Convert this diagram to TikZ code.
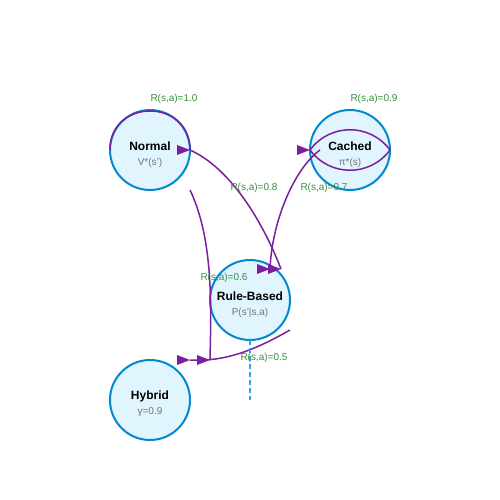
\documentclass[tikz,border=0pt]{standalone}
\usepackage{fontspec}
\setmainfont{Liberation Sans}
\definecolor{statefill}{HTML}{E1F5FE}
\definecolor{statedraw}{HTML}{0288D1}
\definecolor{edgecol}{HTML}{7B1FA2}
\definecolor{rewardcol}{HTML}{388E3C}
\definecolor{subcol}{HTML}{757575}
\definecolor{dashcol}{HTML}{35A3E0}
\newcommand{\mdptip}[1]{\fill[edgecol] (#1) ++(-13,-5) -- ++(13,5) -- ++(-13,5) -- cycle;}
\begin{document}
\begin{tikzpicture}[x=1pt,y=-1pt,
	state/.style={circle,draw=statedraw,fill=statefill,line width=2pt,
		minimum size=80pt,inner sep=0pt,outer sep=0pt},
	title/.style={font=\fontsize{12}{14}\selectfont\bfseries,inner sep=0pt},
	sub/.style={font=\fontsize{10}{12}\selectfont,text=subcol,inner sep=0pt},
	trans/.style={draw=edgecol,line width=1.5pt},
	reward/.style={font=\fontsize{10}{12}\selectfont,text=rewardcol,inner sep=0pt}]
	\useasboundingbox (0,0) rectangle (500,500);
	% states
	\node[state] (normal) at (150,150) {};
	\node[state] (cached) at (350,150) {};
	\node[state] (rule) at (250,300) {};
	\node[state] (hybrid) at (150,400) {};
	\node[title] (normalname) at (150,146) {Normal};
	\node[sub] (normalval) at (150,162.5) {V*(s')};
	\node[title] (cachedname) at (350,146) {Cached};
	\node[sub] (cachedval) at (350,162.5) {π*(s)};
	\node[title] (rulename) at (250,296) {Rule-Based};
	\node[sub] (ruleval) at (250,312.5) {P(s'|s,a)};
	\node[title] (hybridname) at (150,396) {Hybrid};
	\node[sub] (hybridval) at (150,412.5) {γ=0.9};
	% end points
	\coordinate (cachedin) at (320,150);
	\coordinate (rulein) at (270,269);
	\coordinate (ruleinb) at (281,269);
	\coordinate (normalout) at (190,190);
	\coordinate (ruleout) at (290,330);
	\coordinate (hybridin) at (210,360);
	\coordinate (hybridinb) at (190,360);
	\coordinate (dashend) at (250,400);
	% transitions
	\draw[trans] (normal.west) .. controls (110,98) and (190,98) .. (normal.east);
	\draw[trans] (cached.west) .. controls (330,123) and (370,123) .. (cached.east);
	\draw[trans] (cached.east) .. controls (370,177) and (330,177) .. (cached.west);
	\draw[trans] (normal.east) .. controls (230,168) and (262,220) .. (ruleinb);
	\draw[trans] (cachedin) .. controls (295,168) and (272,220) .. (rulein);
	\draw[trans] (normalout) .. controls (214,240) and (211,310) .. (hybridin);
	\draw[trans] (ruleout) .. controls (255,350) and (225,362) .. (hybridinb);
	\draw[draw=dashcol,line width=2pt,dash pattern=on 5pt off 3pt] (rule.south) -- (dashend);
	% arrow heads
	\mdptip{normal.east}
	\mdptip{cached.west}
	\mdptip{rulein}
	\mdptip{ruleinb}
	\mdptip{hybridinb}
	\mdptip{hybridin}
	% rewards
	\node[reward] (r1) at (174,98.5) {R(s,a)=1.0};
	\node[reward] (r2) at (374,98.5) {R(s,a)=0.9};
	\node[reward] (r3) at (254,187.5) {R(s,a)=0.8};
	\node[reward] (r4) at (324,187.5) {R(s,a)=0.7};
	\node[reward] (r5) at (224,277.5) {R(s,a)=0.6};
	\node[reward] (r6) at (264,357.5) {R(s,a)=0.5};
\end{tikzpicture}
\end{document}
